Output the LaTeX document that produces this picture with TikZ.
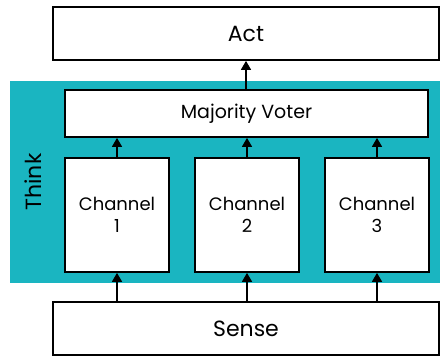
\documentclass[tikz,border=0pt]{standalone}
\usepackage{fontspec}
\setmainfont{Poppins}
\usetikzlibrary{arrows.meta}
\definecolor{thinkteal}{RGB}{26,181,193}
\tikzset{
  blockbox/.style={draw=black, line width=1.8pt, fill=white, inner sep=0pt, align=center},
  arr/.style={line width=1.6pt, -{Triangle[width=10pt,length=9pt]}},
  bigtext/.style={font=\fontsize{22}{24}\selectfont},
  chantext/.style={font=\fontsize{18}{22}\selectfont},
}
\begin{document}
\begin{tikzpicture}[x=1pt, y=-1pt]
  \useasboundingbox (0,0) rectangle (440,356);
  % Think band
  \node[fill=thinkteal, minimum width=430pt, minimum height=202pt, inner sep=0pt] (think) at (225,182) {};
  \node[rotate=90, font=\fontsize{22}{24}\selectfont] (thinklabel) at (33,182) {Think};
  % Blocks
  \node[blockbox, bigtext, minimum width=386pt, minimum height=53pt] (act) at (246,33.5) {Act};
  \node[blockbox, bigtext, minimum width=386pt, minimum height=53pt] (sense) at (246,328.5) {Sense};
  \node[blockbox, minimum width=363pt, minimum height=47pt, font=\fontsize{19}{21}\selectfont] (voter) at (246.5,113.5) {Majority Voter};
  \node[blockbox, chantext, minimum width=104pt, minimum height=114pt] (ch1) at (117,215) {Channel\\1};
  \node[blockbox, chantext, minimum width=104pt, minimum height=114pt] (ch2) at (247,215) {Channel\\2};
  \node[blockbox, chantext, minimum width=104pt, minimum height=114pt] (ch3) at (377,215) {Channel\\3};
  % Connectors
  \foreach \c in {ch1,ch2,ch3} {
    \draw[arr] (sense.north -| \c) -- (\c.south);
    \draw[arr] (\c.north) -- (voter.south -| \c);
  }
  \draw[arr] (voter.north -| act) -- (act.south);
\end{tikzpicture}
\end{document}
